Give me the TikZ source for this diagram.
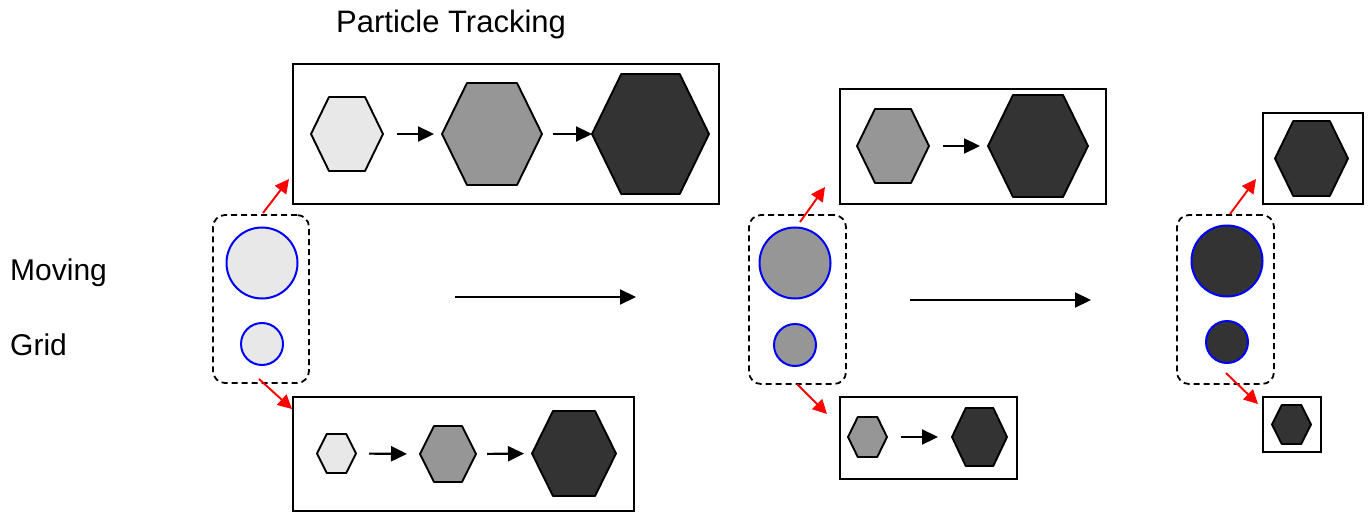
\documentclass[tikz,border=0pt]{standalone}
\usepackage{fontspec}
\setmainfont{Liberation Sans}
\usetikzlibrary{calc,arrows.meta}
\definecolor{lightg}{HTML}{E8E8E8}
\definecolor{midg}{HTML}{969696}
\definecolor{darkg}{HTML}{333333}
\tikzset{
  anchorbox/.style={inner sep=0pt,outer sep=0pt,draw=none},
  hexline/.style={draw=black,line width=1.9pt,line join=round},
  framebox/.style={anchorbox,draw=black,line width=1.8pt},
  groupbox/.style={anchorbox,draw=black,line width=1.8pt,dash pattern=on 6pt off 4pt,rounded corners=12pt},
  gridcircle/.style={circle,anchorbox,draw=blue,line width=2pt},
  steparrow/.style={line width=2.2pt,-{Triangle[length=16pt,width=15pt]}},
  mainarrow/.style={line width=2.2pt,-{Triangle[length=16pt,width=15pt]}},
  redarrow/.style={draw=red,line width=1.9pt,-{Triangle[length=14pt,width=14pt]}},
  label/.style={anchor=base west,inner sep=0pt,font=\fontsize{30}{36}\selectfont}
}
\newcommand{\hexnode}[6]{%
  \node[anchorbox,minimum width=#4,minimum height=#5] (#1) at (#2,#3) {};
  \draw[hexline,fill=#6] (#1.west) -- ($(#1.north west)!.25!(#1.north east)$) -- ($(#1.north west)!.75!(#1.north east)$) -- (#1.east) -- ($(#1.south west)!.75!(#1.south east)$) -- ($(#1.south west)!.25!(#1.south east)$) -- cycle;}
\begin{document}
\begin{tikzpicture}[x=1pt,y=-1pt]
\useasboundingbox (0,0) rectangle (1372,513);
% labels
\node[label,font=\fontsize{31}{37}\selectfont] (title) at (336,33) {Particle Tracking};
\node[label] (moving) at (10,280) {Moving};
\node[label] (grid) at (10,355) {Grid};
% frames
\node[framebox,minimum width=426,minimum height=140] (t1) at (506,134) {};
\node[framebox,minimum width=341,minimum height=114] (b1) at (463.5,454) {};
\node[framebox,minimum width=266,minimum height=115] (t2) at (973,146.5) {};
\node[framebox,minimum width=177,minimum height=82] (b2) at (928.5,438) {};
\node[framebox,minimum width=100,minimum height=91] (t3) at (1313,158.5) {};
\node[framebox,minimum width=58,minimum height=55] (b3) at (1292,424.5) {};
% hexagons, frame t1
\hexnode{h11}{347}{134}{72}{74}{lightg}
\hexnode{h12}{492}{134}{100}{102}{midg}
\hexnode{h13}{650.5}{134}{117}{120}{darkg}
\draw[steparrow,shorten <=14pt,shorten >=8pt] (h11.east) -- (h12.west);
\draw[steparrow,shorten <=11pt] (h12.east) -- (h13.west);
% frame b1
\hexnode{h14}{336.5}{453.5}{39}{39}{lightg}
\hexnode{h15}{448}{454}{56}{56}{midg}
\hexnode{h16}{574}{453.5}{84}{85}{darkg}
\draw[steparrow,shorten <=13pt,shorten >=13pt] (h14.east) -- (h15.west);
\draw[steparrow,shorten <=11pt,shorten >=8pt] (h15.east) -- (h16.west);
% frame t2
\hexnode{h21}{893}{146}{72}{74}{midg}
\hexnode{h22}{1038}{146}{100}{102}{darkg}
\draw[steparrow,shorten <=14pt,shorten >=8pt] (h21.east) -- (h22.west);
% frame b2
\hexnode{h23}{867.5}{437}{39}{40}{midg}
\hexnode{h24}{979.5}{437}{55}{58}{darkg}
\draw[steparrow,shorten <=14pt,shorten >=14pt] (h23.east) -- (h24.west);
% frame t3, b3
\hexnode{h31}{1311.5}{158.5}{73}{75}{darkg}
\hexnode{h32}{1291.5}{424.5}{39}{39}{darkg}
% groups
\node[groupbox,minimum width=96,minimum height=168] (g1) at (261,299) {};
\node[gridcircle,fill=lightg,minimum size=71] (c11) at (262,263) {};
\node[gridcircle,fill=lightg,minimum size=42] (c12) at (262,344) {};
\node[groupbox,minimum width=97,minimum height=169] (g2) at (797.5,299.5) {};
\node[gridcircle,fill=midg,minimum size=71] (c21) at (795,263) {};
\node[gridcircle,fill=midg,minimum size=42] (c22) at (795,345) {};
\node[groupbox,minimum width=97,minimum height=169] (g3) at (1225.5,299.5) {};
\node[gridcircle,fill=darkg,minimum size=71] (c31) at (1227,261) {};
\node[gridcircle,fill=darkg,minimum size=42] (c32) at (1227,342) {};
% red arrows
\draw[redarrow] ($(g1.north)+(2,-2)$) -- ($(t1.south west)+(-4,-25)$);
\draw[redarrow] ($(g1.south)+(-2,-4)$) -- ($(b1.north west)+(-1,12)$);
\draw[redarrow] ($(g2.north)+(2.5,7)$) -- ($(t2.south west)+(-15,-17)$);
\draw[redarrow] ($(g2.south)+(-0.5,0)$) -- ($(b2.north west)+(-13,17)$);
\draw[redarrow] ($(g3.north)+(4.5,-1)$) -- ($(t3.south west)+(-7,-25)$);
\draw[redarrow] ($(g3.south)+(0.5,-11)$) -- ($(b3.north west)+(-5,7)$);
% main arrows
\coordinate (m1s) at (455,297);
\coordinate (m1e) at (636,297);
\coordinate (m2s) at (910,300);
\coordinate (m2e) at (1091,300);
\draw[mainarrow] (m1s) -- (m1e);
\draw[mainarrow] (m2s) -- (m2e);
\end{tikzpicture}
\end{document}
